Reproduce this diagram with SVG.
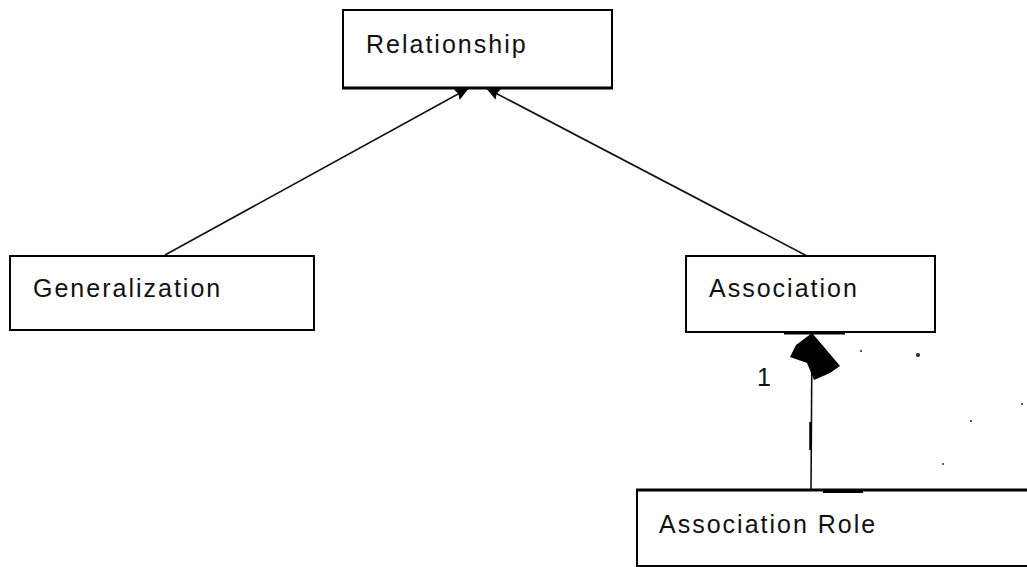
<svg xmlns="http://www.w3.org/2000/svg" width="1027" height="567" viewBox="0 0 1027 567">
<style>
.box{fill:#fff;stroke:#000;stroke-width:2}
.lbl{font-family:"Liberation Sans",Arial,sans-serif;font-size:25px;letter-spacing:2px;fill:#111}
.edge{stroke:#111;stroke-width:1.6;fill:none}
</style>
<defs>
<marker id="arr" viewBox="0 0 14 12" refX="14" refY="6" markerWidth="14" markerHeight="12" markerUnits="userSpaceOnUse" orient="auto">
<path d="M0,0 L14,6 L0,12 L2,6 z" fill="#000"/>
</marker>
</defs>
<rect width="1027" height="567" fill="#fff"/>
<g id="connectors">
<line class="edge" x1="165" y1="255" x2="469" y2="88" marker-end="url(#arr)"/>
<line class="edge" x1="807" y1="256" x2="486" y2="88" marker-end="url(#arr)"/>
<line class="edge" x1="811" y1="490" x2="812" y2="334"/>
<line x1="810.5" y1="422" x2="810.5" y2="450" stroke="#000" stroke-width="2.5"/>
<polygon points="812,333 796,345 790,357 807,363 814,380 830,373 840,366 824,347" fill="#000"/>
<text class="lbl" x="757" y="386">1</text>
</g>
<g id="relationship">
<rect class="box" x="343" y="10" width="269" height="78"/>
<line x1="342" y1="88" x2="613" y2="88" stroke="#000" stroke-width="3"/>
<text class="lbl" x="366" y="53">Relationship</text>
</g>
<g id="generalization">
<rect class="box" x="10" y="256" width="304" height="74"/>
<text class="lbl" x="33" y="297">Generalization</text>
</g>
<g id="association">
<rect class="box" x="686" y="256" width="249" height="76"/>
<rect x="784" y="332" width="61" height="2.5" fill="#000"/>
<text class="lbl" x="709" y="297">Association</text>
</g>
<g id="association-role">
<rect class="box" x="637" y="490" width="400" height="76"/>
<line x1="636" y1="490" x2="1027" y2="490" stroke="#000" stroke-width="3"/>
<rect x="823" y="489" width="40" height="4" fill="#000"/>
<text class="lbl" x="659" y="533">Association Role</text>
</g>
<g id="specks" fill="#222">
<circle cx="918" cy="355" r="2"/>
<circle cx="861" cy="351" r="1"/>
<circle cx="971" cy="421" r="1"/>
<circle cx="943" cy="464" r="1"/>
<circle cx="1022" cy="404" r="1"/>
</g>
</svg>
